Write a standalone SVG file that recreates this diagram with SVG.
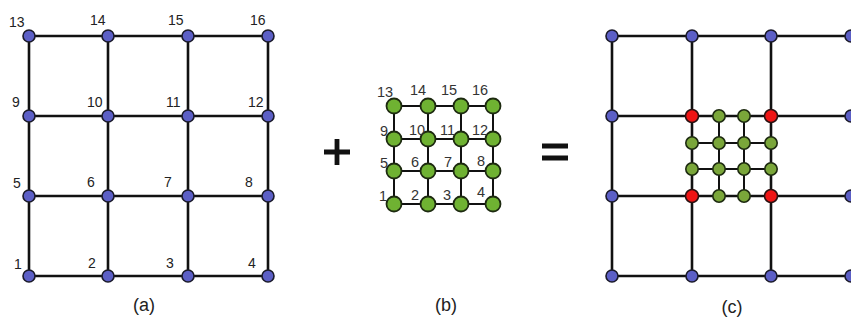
<svg xmlns="http://www.w3.org/2000/svg" width="851" height="323" viewBox="0 0 851 323">
<style>
.bg{fill:#fff}
.ln{stroke:#111;stroke-width:2.6;fill:none;stroke-linecap:square}
.lt{stroke:#111;stroke-width:2;fill:none}
.b{fill:#5c5fc6;stroke:#1a1a2a;stroke-width:1.6}
.g{fill:#6fb232;stroke:#1d2a10;stroke-width:1.8}
.g2{fill:#7aa63a;stroke:#1d2a10;stroke-width:1.6}
.r{fill:#ee1414;stroke:#2a1010;stroke-width:1.6}
.t{font-family:"Liberation Sans",Arial,sans-serif;font-size:14px;fill:#222}
.tb{font-family:"Liberation Sans",Arial,sans-serif;font-size:14.5px;fill:#333}
.cap{font-family:"Liberation Sans",Arial,sans-serif;font-size:18px;fill:#222;text-anchor:middle}
.op{stroke:#111;stroke-width:4.8}
</style>
<rect class="bg" width="851" height="323"/>
<g id="connectors">
  <g id="edges-a">
    <path class="ln" d="M29,36H268M29,116H268M29,196H268M29,276H268M29,36V276M108,36V276M188,36V276M268,36V276"/>
  </g>
  <g id="edges-b">
    <path class="lt" d="M394,106H493M394,139H493M394,171H493M394,204H493M394,106V204M428,106V204M461,106V204M493,106V204"/>
  </g>
  <g id="edges-c">
    <path class="ln" d="M612,36H851M612,116H851M612,196H851M612,276H851M612,36V276M692,36V276M771,36V276"/>
    <path class="lt" d="M692,143H771M692,169H771M719,116V196M744,116V196"/>
  </g>
</g>
<g id="graph-a">
  <g id="a1"><circle class="b" cx="29" cy="276" r="6"/><text class="t" x="14" y="269">1</text></g>
  <g id="a2"><circle class="b" cx="108" cy="276" r="6"/><text class="t" x="88" y="268">2</text></g>
  <g id="a3"><circle class="b" cx="188" cy="276" r="6"/><text class="t" x="166" y="268">3</text></g>
  <g id="a4"><circle class="b" cx="268" cy="276" r="6"/><text class="t" x="248" y="268">4</text></g>
  <g id="a5"><circle class="b" cx="29" cy="196" r="6"/><text class="t" x="13" y="188">5</text></g>
  <g id="a6"><circle class="b" cx="108" cy="196" r="6"/><text class="t" x="87" y="187">6</text></g>
  <g id="a7"><circle class="b" cx="188" cy="196" r="6"/><text class="t" x="164" y="187">7</text></g>
  <g id="a8"><circle class="b" cx="268" cy="196" r="6"/><text class="t" x="245" y="187">8</text></g>
  <g id="a9"><circle class="b" cx="29" cy="116" r="6"/><text class="t" x="12" y="107">9</text></g>
  <g id="a10"><circle class="b" cx="108" cy="116" r="6"/><text class="t" x="87" y="107">10</text></g>
  <g id="a11"><circle class="b" cx="188" cy="116" r="6"/><text class="t" x="166" y="107">11</text></g>
  <g id="a12"><circle class="b" cx="268" cy="116" r="6"/><text class="t" x="248" y="107">12</text></g>
  <g id="a13"><circle class="b" cx="29" cy="36" r="6"/><text class="t" x="9" y="27">13</text></g>
  <g id="a14"><circle class="b" cx="108" cy="36" r="6"/><text class="t" x="90" y="25">14</text></g>
  <g id="a15"><circle class="b" cx="188" cy="36" r="6"/><text class="t" x="168" y="25">15</text></g>
  <g id="a16"><circle class="b" cx="268" cy="36" r="6"/><text class="t" x="250" y="25">16</text></g>
  <text class="cap" x="144" y="311">(a)</text>
</g>
<g id="plus"><path class="op" d="M324,152H350M337,139V165"/></g>
<g id="graph-b">
  <g id="b1"><circle class="g" cx="394" cy="204" r="7.5"/><text class="tb" x="379" y="201">1</text></g>
  <g id="b2"><circle class="g" cx="428" cy="204" r="7.5"/><text class="tb" x="411" y="200">2</text></g>
  <g id="b3"><circle class="g" cx="461" cy="204" r="7.5"/><text class="tb" x="443" y="200">3</text></g>
  <g id="b4"><circle class="g" cx="493" cy="204" r="7.5"/><text class="tb" x="477" y="197">4</text></g>
  <g id="b5"><circle class="g" cx="394" cy="171" r="7.5"/><text class="tb" x="380" y="168">5</text></g>
  <g id="b6"><circle class="g" cx="428" cy="171" r="7.5"/><text class="tb" x="411" y="167">6</text></g>
  <g id="b7"><circle class="g" cx="461" cy="171" r="7.5"/><text class="tb" x="444" y="167">7</text></g>
  <g id="b8"><circle class="g" cx="493" cy="171" r="7.5"/><text class="tb" x="477" y="166">8</text></g>
  <g id="b9"><circle class="g" cx="394" cy="139" r="7.5"/><text class="tb" x="380" y="136">9</text></g>
  <g id="b10"><circle class="g" cx="428" cy="139" r="7.5"/><text class="tb" x="409" y="135">10</text></g>
  <g id="b11"><circle class="g" cx="461" cy="139" r="7.5"/><text class="tb" x="440" y="135">11</text></g>
  <g id="b12"><circle class="g" cx="493" cy="139" r="7.5"/><text class="tb" x="472" y="135">12</text></g>
  <g id="b13"><circle class="g" cx="394" cy="106" r="7.5"/><text class="tb" x="377" y="97">13</text></g>
  <g id="b14"><circle class="g" cx="428" cy="106" r="7.5"/><text class="tb" x="410" y="95">14</text></g>
  <g id="b15"><circle class="g" cx="461" cy="106" r="7.5"/><text class="tb" x="441" y="95">15</text></g>
  <g id="b16"><circle class="g" cx="493" cy="106" r="7.5"/><text class="tb" x="472" y="95">16</text></g>
  <text class="cap" x="446" y="311">(b)</text>
</g>
<g id="equals"><path class="op" d="M542,146H568M542,158H568"/></g>
<g id="graph-c">
  <g id="c-outer">
    <circle class="b" cx="612" cy="36" r="6"/><circle class="b" cx="692" cy="36" r="6"/><circle class="b" cx="771" cy="36" r="6"/><circle class="b" cx="851" cy="36" r="6"/>
    <circle class="b" cx="612" cy="116" r="6"/><circle class="b" cx="851" cy="116" r="6"/>
    <circle class="b" cx="612" cy="196" r="6"/><circle class="b" cx="851" cy="196" r="6"/>
    <circle class="b" cx="612" cy="276" r="6"/><circle class="b" cx="692" cy="276" r="6"/><circle class="b" cx="771" cy="276" r="6"/><circle class="b" cx="851" cy="276" r="6"/>
  </g>
  <g id="c-shared">
    <circle class="r" cx="692" cy="116" r="6.5"/><circle class="r" cx="771" cy="116" r="6.5"/>
    <circle class="r" cx="692" cy="196" r="6.5"/><circle class="r" cx="771" cy="196" r="6.5"/>
  </g>
  <g id="c-inner">
    <circle class="g2" cx="719" cy="116" r="6.2"/><circle class="g2" cx="744" cy="116" r="6.2"/>
    <circle class="g2" cx="692" cy="143" r="6.2"/><circle class="g2" cx="719" cy="143" r="6.2"/><circle class="g2" cx="744" cy="143" r="6.2"/><circle class="g2" cx="771" cy="143" r="6.2"/>
    <circle class="g2" cx="692" cy="169" r="6.2"/><circle class="g2" cx="719" cy="169" r="6.2"/><circle class="g2" cx="744" cy="169" r="6.2"/><circle class="g2" cx="771" cy="169" r="6.2"/>
    <circle class="g2" cx="719" cy="196" r="6.2"/><circle class="g2" cx="744" cy="196" r="6.2"/>
  </g>
  <text class="cap" x="732" y="313">(c)</text>
</g>
</svg>
